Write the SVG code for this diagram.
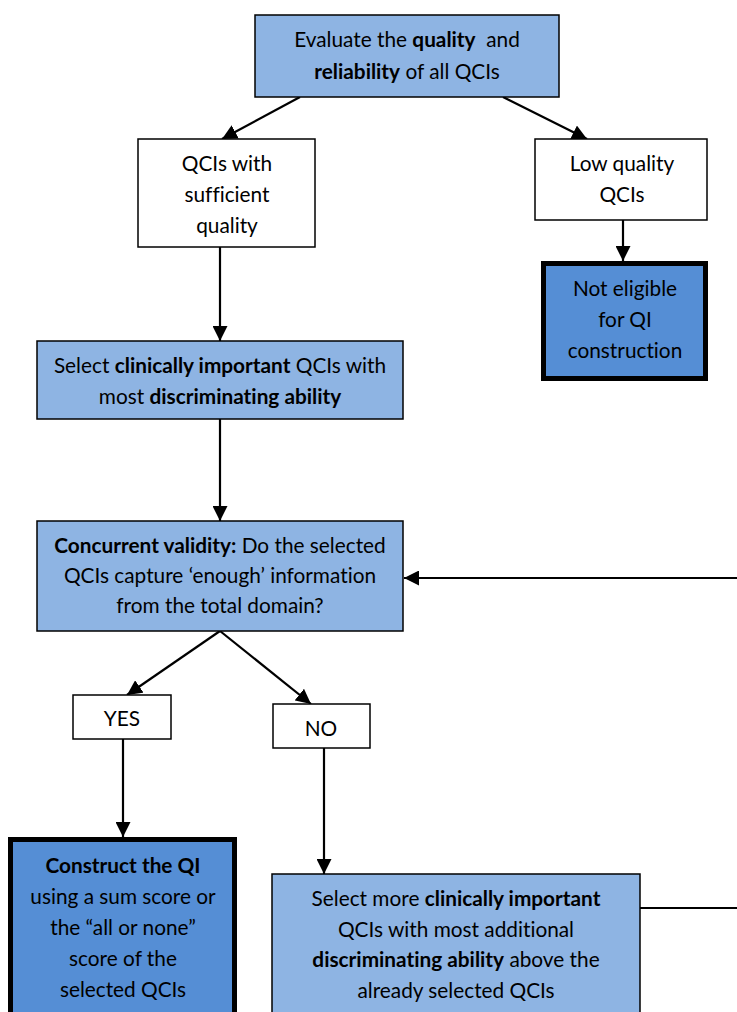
<svg xmlns="http://www.w3.org/2000/svg" width="737" height="1012" viewBox="0 0 737 1012">
<style>
.t{font-family:Lato,"Open Sans","Liberation Sans",sans-serif;font-size:20.8px;fill:#000;text-anchor:middle;font-variant-ligatures:none}
.b{font-weight:bold}
.light{fill:#8EB4E3;stroke:#000;stroke-width:1.5}
.white{fill:#fff;stroke:#000;stroke-width:1.5}
.dark{fill:#558ED5;stroke:#000;stroke-width:5}
.c{fill:none;stroke:#000;stroke-width:2.2}
</style>
<defs>
<marker id="ah" markerUnits="userSpaceOnUse" markerWidth="15" markerHeight="15" refX="15" refY="7.5" orient="auto" viewBox="0 0 15 15">
<path d="M0,0 L15,7.5 L0,15 z" fill="#000"/>
</marker>
</defs>
<g id="connectors">
<line class="c" x1="300" y1="97" x2="222" y2="139" marker-end="url(#ah)"/>
<line class="c" x1="503" y1="97" x2="587" y2="139" marker-end="url(#ah)"/>
<line class="c" x1="623" y1="220" x2="623" y2="261" marker-end="url(#ah)"/>
<line class="c" x1="220" y1="247" x2="220" y2="341" marker-end="url(#ah)"/>
<line class="c" x1="220" y1="419" x2="220" y2="521" marker-end="url(#ah)"/>
<line class="c" x1="220" y1="631" x2="127" y2="695" marker-end="url(#ah)"/>
<line class="c" x1="220" y1="631" x2="311" y2="704" marker-end="url(#ah)"/>
<line class="c" x1="123" y1="739" x2="123" y2="837" marker-end="url(#ah)"/>
<line class="c" x1="324" y1="748" x2="324" y2="874" marker-end="url(#ah)"/>
<polyline class="c" points="640,908 745,908 745,578"/>
<line class="c" x1="745" y1="578" x2="404" y2="578" marker-end="url(#ah)"/>
</g>
<g id="evaluate">
<rect class="light" x="255" y="15" width="304" height="82"/>
<text class="t" x="407" y="47" style="white-space:pre">Evaluate the <tspan class="b">quality</tspan>  and</text>
<text class="t" x="407" y="79"><tspan class="b">reliability</tspan> of all QCIs</text>
</g>
<g id="sufficient">
<rect class="white" x="138" y="139" width="177" height="108"/>
<text class="t" x="227" y="171">QCIs with</text>
<text class="t" x="227" y="202">sufficient</text>
<text class="t" x="227" y="233">quality</text>
</g>
<g id="lowquality">
<rect class="white" x="535" y="139" width="172" height="81"/>
<text class="t" x="622" y="171">Low quality</text>
<text class="t" x="622" y="202">QCIs</text>
</g>
<g id="noteligible">
<rect class="dark" x="543.5" y="263.5" width="162" height="115"/>
<text class="t" x="625" y="296">Not eligible</text>
<text class="t" x="625" y="327">for QI</text>
<text class="t" x="625" y="358">construction</text>
</g>
<g id="select">
<rect class="light" x="37" y="341" width="366" height="78"/>
<text class="t" x="220" y="373">Select <tspan class="b">clinically important</tspan> QCIs with</text>
<text class="t" x="220" y="404">most <tspan class="b">discriminating ability</tspan></text>
</g>
<g id="concurrent">
<rect class="light" x="37" y="521" width="366" height="110"/>
<text class="t" x="220" y="553"><tspan class="b">Concurrent validity:</tspan> Do the selected</text>
<text class="t" x="220" y="583">QCIs capture ‘enough’ information</text>
<text class="t" x="220" y="613">from the total domain?</text>
</g>
<g id="yes">
<rect class="white" x="73" y="695" width="98" height="44"/>
<text class="t" x="122" y="726">YES</text>
</g>
<g id="no">
<rect class="white" x="273" y="704" width="97" height="44"/>
<text class="t" x="321" y="736">NO</text>
</g>
<g id="construct">
<rect class="dark" x="10.5" y="839.5" width="224" height="190"/>
<text class="t" x="123" y="873"><tspan class="b">Construct the QI</tspan></text>
<text class="t" x="123" y="904">using a sum score or</text>
<text class="t" x="123" y="935">the “all or none”</text>
<text class="t" x="123" y="966">score of the</text>
<text class="t" x="123" y="997">selected QCIs</text>
</g>
<g id="selectmore">
<rect class="light" x="272" y="874" width="368" height="160"/>
<text class="t" x="456" y="906">Select more <tspan class="b">clinically important</tspan></text>
<text class="t" x="456" y="937">QCIs with most additional</text>
<text class="t" x="456" y="967"><tspan class="b">discriminating ability</tspan> above the</text>
<text class="t" x="456" y="998">already selected QCIs</text>
</g>
</svg>
